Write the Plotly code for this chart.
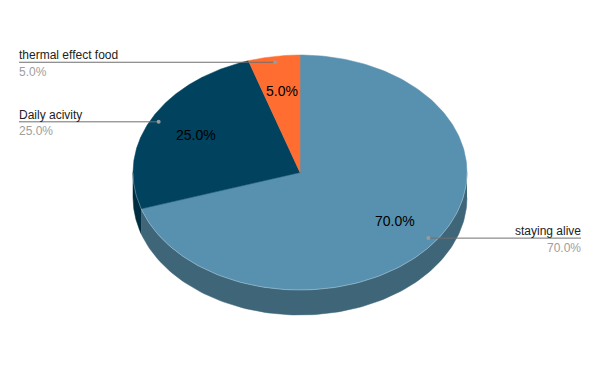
import numpy as np
import plotly.graph_objects as go

labels = ["staying alive", "Daily acivity", "thermal effect food"]
values = [70, 25, 5]
top_colors = ["#5891af", "#01425e", "#ff6d31"]
side_colors = ["#3e6578", "#002d40", "#b34c22"]

W, H = 600, 371
cx, cy, rx, ry, depth = 300, 172.5, 167, 117.5, 25
FONT = "Liberation Sans, Arial, sans-serif"


def pt(t, r=1.0, dy=0.0):
    return cx + rx * r * np.sin(t), cy - ry * r * np.cos(t) + dy


total = float(sum(values))
fracs = [v / total for v in values]
starts = np.cumsum([0] + fracs[:-1]) * 2 * np.pi
ends = starts + np.array(fracs) * 2 * np.pi

fig = go.Figure()

# side walls (front half only)
for i in range(len(values)):
    a = max(starts[i], np.pi / 2)
    b = min(ends[i], 3 * np.pi / 2)
    if b > a:
        t = np.linspace(a, b, 120)
        x1, y1 = pt(t)
        x2, y2 = pt(t[::-1], dy=depth)
        fig.add_trace(go.Scatter(
            x=np.r_[x1, x2], y=np.r_[y1, y2], fill="toself",
            fillcolor=side_colors[i], mode="lines",
            line=dict(color=side_colors[i], width=0.5),
            hoverinfo="skip", showlegend=False))

# top faces
for i in range(len(values)):
    t = np.linspace(starts[i], ends[i], 240)
    x, y = pt(t)
    fig.add_trace(go.Scatter(
        x=np.r_[cx, x, cx], y=np.r_[cy, y, cy], fill="toself",
        fillcolor=top_colors[i], mode="lines",
        line=dict(color=top_colors[i], width=0.5),
        hoverinfo="skip", showlegend=False))

# subtle highlight on front rim of top face
for i in range(len(values)):
    a = max(starts[i], np.pi / 2)
    b = min(ends[i], 3 * np.pi / 2)
    if b > a:
        t = np.linspace(a, b, 120)
        x, y = pt(t)
        fig.add_trace(go.Scatter(x=x, y=y, mode="lines",
                                 line=dict(color="rgba(255,255,255,0.35)", width=0.8),
                                 hoverinfo="skip", showlegend=False))

annotations = []
for i in range(len(values)):
    mid = (starts[i] + ends[i]) / 2
    pct = f"{values[i] / total * 100:.1f}%"
    # inside label
    lx, ly = pt(mid, r=0.7)
    annotations.append(dict(x=lx, y=ly, text=pct, showarrow=False,
                            font=dict(family=FONT, size=14, color="#000000"),
                            xanchor="center", yanchor="middle"))
    # leader
    dx, dy_ = pt(mid, r=0.95)
    right = np.sin(mid) > 0
    ex = 581 if right else 19
    fig.add_trace(go.Scatter(x=[dx, ex], y=[dy_, dy_], mode="lines",
                             line=dict(color="#6f6f6f", width=1),
                             hoverinfo="skip", showlegend=False))
    fig.add_trace(go.Scatter(x=[dx], y=[dy_], mode="markers",
                             marker=dict(color="#9a9a9a", size=4),
                             hoverinfo="skip", showlegend=False))
    anchor = "right" if right else "left"
    shift = 2 if right else -2
    annotations.append(dict(x=ex, y=dy_ - 8, text=labels[i], showarrow=False,
                            font=dict(family=FONT, size=12, color="#222222"),
                            xanchor=anchor, yanchor="middle", xshift=shift, yshift=-1))
    annotations.append(dict(x=ex, y=dy_ + 8.5, text=pct, showarrow=False,
                            font=dict(family=FONT, size=12, color="#9e9e9e"),
                            xanchor=anchor, yanchor="middle", xshift=shift, yshift=-1))

fig.update_layout(
    width=W, height=H, margin=dict(l=0, r=0, t=0, b=0),
    paper_bgcolor="white", plot_bgcolor="white",
    xaxis=dict(range=[0, W], visible=False, fixedrange=True),
    yaxis=dict(range=[H, 0], visible=False, fixedrange=True),
    annotations=annotations, showlegend=False,
)

fig.write_html("out.html")
